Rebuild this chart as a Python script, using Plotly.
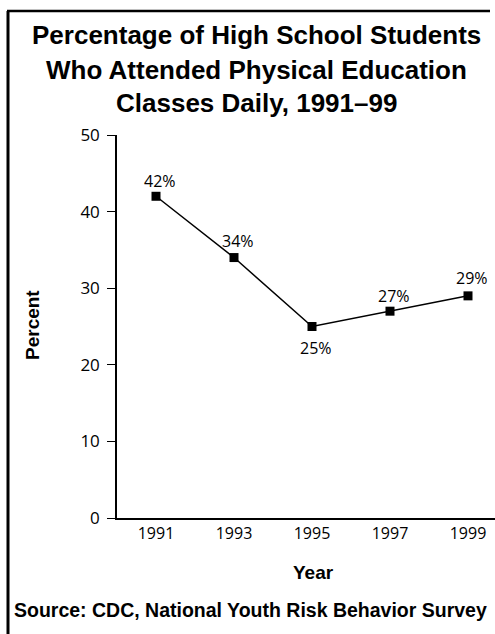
import plotly.graph_objects as go

years = [1991, 1993, 1995, 1997, 1999]
percent = [42, 34, 25, 27, 29]
label_shift = [15, 17, -21, 15, 18]
year_ticks = ["1991", "1993", "1995", "1997", "1999"]
y_ticks = [0, 10, 20, 30, 40, 50]

title_lines = [
    "Percentage of High School Students",
    "Who Attended Physical Education",
    "Classes Daily, 1991\u201399",
]

W, H = 495, 634
L, R, T, B = 117, 0, 135, 116
PW, PH = W - L - R, H - T - B


def px(x):
    return (x - L) / PW


def py(y):
    return (H - B - y) / PH


fig = go.Figure()
fig.add_trace(go.Scatter(
    x=years, y=percent, mode="lines+markers",
    line=dict(color="black", width=1.5),
    marker=dict(symbol="square", size=9, color="black"),
    hoverinfo="skip", showlegend=False,
))

ann = []
for x, v, s in zip(years, percent, label_shift):
    ann.append(dict(x=x, y=v, xref="x", yref="y", text=f"{v}%", showarrow=False,
                    yshift=s, xshift=4,
                    font=dict(family="Open Sans", size=16, color="black")))

title_y = [35, 70, 103]
for t, yy in zip(title_lines, title_y):
    ann.append(dict(x=px(256), y=py(yy), xref="paper", yref="paper", text=f"<b>{t}</b>",
                    showarrow=False, xanchor="center", yanchor="middle",
                    font=dict(family="Liberation Sans", size=26, color="black")))

ann.append(dict(x=px(32), y=py(325), xref="paper", yref="paper", text="<b>Percent</b>",
                textangle=-90, showarrow=False, xanchor="center", yanchor="middle",
                font=dict(family="Liberation Sans", size=19, color="black")))
ann.append(dict(x=px(313), y=py(572), xref="paper", yref="paper", text="<b>Year</b>",
                showarrow=False, xanchor="center", yanchor="middle",
                font=dict(family="Liberation Sans", size=19, color="black")))
ann.append(dict(x=px(12), y=py(610), xref="paper", yref="paper",
                text="<b>Source: CDC, National Youth Risk Behavior Survey</b>",
                showarrow=False, xanchor="left", yanchor="middle",
                font=dict(family="Liberation Sans", size=19.5, color="black")))

shapes = [
    dict(type="line", xref="paper", yref="paper", x0=px(8), x1=px(8), y0=py(11), y1=py(640),
         line=dict(color="black", width=3)),
    dict(type="line", xref="paper", yref="paper", x0=px(7), x1=px(490), y0=py(11), y1=py(11),
         line=dict(color="black", width=2.5)),
]

fig.update_layout(
    width=W, height=H,
    margin=dict(l=L, r=R, t=T, b=B),
    paper_bgcolor="white", plot_bgcolor="white",
    annotations=ann, shapes=shapes,
    xaxis=dict(range=[1990, 1990 + PW / 39], tickvals=years, ticktext=year_ticks,
               showline=True, linecolor="black", linewidth=1.5, ticks="",
               showgrid=False, zeroline=False,
               tickfont=dict(family="Open Sans", size=16, color="black")),
    yaxis=dict(range=[0, 50], tickvals=y_ticks, showline=True, linecolor="black",
               linewidth=1.5, ticks="outside", ticklen=8, tickwidth=1, tickcolor="black",
               showgrid=False, zeroline=False, ticklabelstandoff=4,
               tickfont=dict(family="Open Sans", size=17, color="black")),
)

fig.write_html(
    "out.html",
    config={"displayModeBar": False},
    post_script="document.body.style.margin='0';document.body.style.overflow='hidden';",
)
